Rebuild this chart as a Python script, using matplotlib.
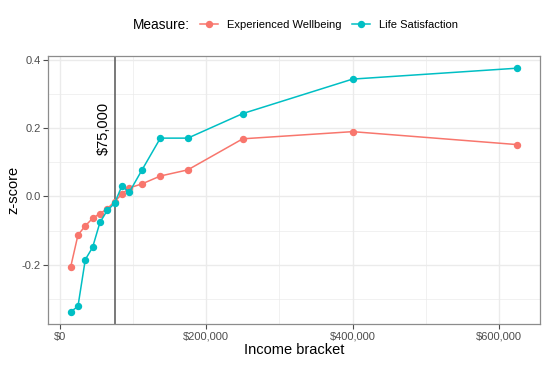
import matplotlib
matplotlib.use("Agg")
import matplotlib.pyplot as plt
from matplotlib.ticker import FuncFormatter, MultipleLocator

plt.rcParams["font.family"] = ["Liberation Sans", "DejaVu Sans"]

# income bracket midpoints and z-scores per measure
income = [15000, 25000, 35000, 45000, 55000, 65000, 75000, 85000, 95000,
          112500, 137500, 175000, 250000, 400000, 625000]
experienced = [-0.207, -0.113, -0.086, -0.064, -0.050, -0.036, -0.015, 0.007,
               0.025, 0.037, 0.060, 0.078, 0.169, 0.190, 0.152]
life_sat = [-0.338, -0.322, -0.185, -0.149, -0.076, -0.041, -0.020, 0.031,
            0.012, 0.078, 0.171, 0.171, 0.243, 0.344, 0.376]
threshold = 75000
threshold_label = r"\$75,000"

RED = "#F8766D"
TEAL = "#00BFC4"
GRID = "#ebebeb"

fig = plt.figure(figsize=(5.47, 3.65), dpi=100)
ax = fig.add_axes([0.0883, 0.1123, 0.9867 - 0.0883, 0.8466 - 0.1123])

# ggplot-ish theme_bw
ax.set_axisbelow(True)
ax.xaxis.set_major_locator(MultipleLocator(200000))
ax.xaxis.set_minor_locator(MultipleLocator(100000))
ax.yaxis.set_major_locator(MultipleLocator(0.2))
ax.yaxis.set_minor_locator(MultipleLocator(0.1))
ax.grid(which="major", color=GRID, lw=1.0)
ax.grid(which="minor", color=GRID, lw=0.5)
for sp in ax.spines.values():
    sp.set_color("#8c8c8c")
    sp.set_linewidth(0.9)
ax.tick_params(which="major", length=3.5, width=0.8, color="#4d4d4d",
               labelsize=8, labelcolor="#4d4d4d", pad=2)
ax.tick_params(which="minor", length=0)

ax.axvline(threshold, color="#555555", lw=1.1, zorder=1.5)
ax.annotate(threshold_label, (threshold, 0.2), xytext=(-3, 0),
            textcoords="offset points", rotation=90, ha="right", va="center",
            fontsize=10.5, color="black")

ax.plot(income, experienced, "-o", color=RED, lw=1.1, ms=4.3,
        label="Experienced Wellbeing", zorder=3)
ax.plot(income, life_sat, "-o", color=TEAL, lw=1.1, ms=4.3,
        label="Life Satisfaction", zorder=3)

ax.set_xlim(-15500, 655500)
ax.set_ylim(-0.3737, 0.4117)
ax.xaxis.set_major_formatter(FuncFormatter(lambda v, p: "${:,.0f}".format(v).replace("$", r"\$")))
ax.yaxis.set_major_formatter(FuncFormatter(lambda v, p: f"{v:.1f}"))

ax.set_xlabel("Income bracket", fontsize=10.5, va="center")
ax.set_ylabel("z-score", fontsize=10.5, va="center")
ax.xaxis.set_label_coords(0.5, -0.097)
ax.yaxis.set_label_coords(-0.072, 0.5)

fig.text(133 / 547, 1 - 25 / 365, "Measure:", fontsize=9.8, ha="left", va="center")
handles, labels = ax.get_legend_handles_labels()
fig.legend(handles, labels, loc="center left", bbox_to_anchor=(200 / 547, 1 - 25 / 365),
           ncol=2, frameon=False, fontsize=8, handlelength=1.6, handletextpad=0.8,
           columnspacing=1.0, borderpad=0, borderaxespad=0)

fig.savefig("out.png", dpi=100)
